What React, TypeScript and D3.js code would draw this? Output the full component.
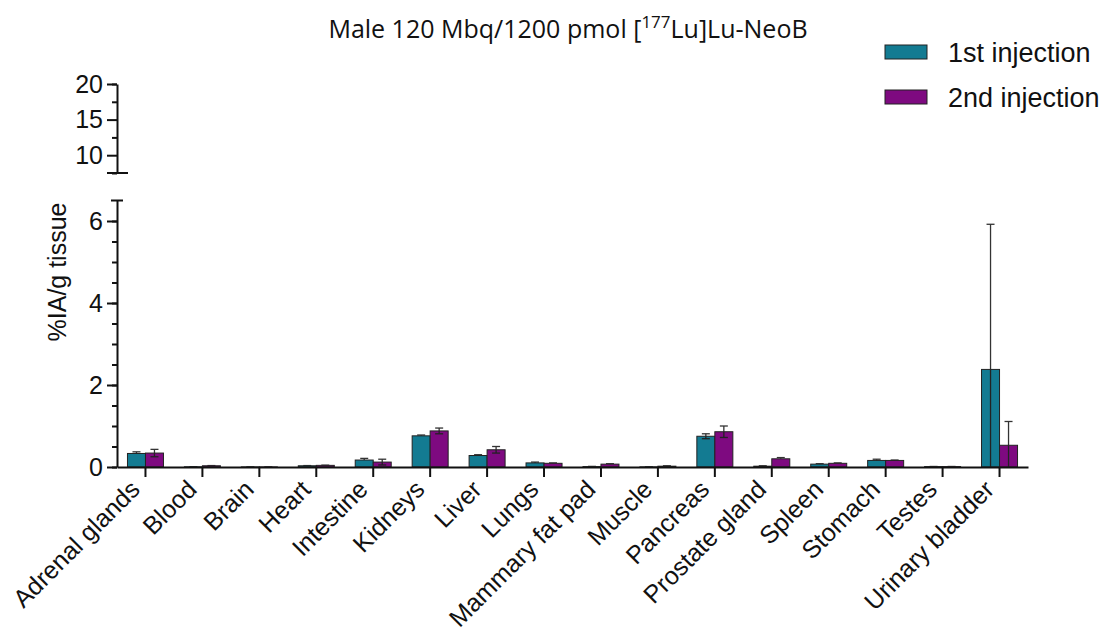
import * as d3 from "d3";
import { useEffect, useRef } from "react";

const tissues = [
  "Adrenal glands",
  "Blood",
  "Brain",
  "Heart",
  "Intestine",
  "Kidneys",
  "Liver",
  "Lungs",
  "Mammary fat pad",
  "Muscle",
  "Pancreas",
  "Prostate gland",
  "Spleen",
  "Stomach",
  "Testes",
  "Urinary bladder",
];
const seriesNames = ["1st injection", "2nd injection"];
const firstMean = [0.33, 0.005, 0.002, 0.03, 0.17, 0.76, 0.28, 0.1, 0.01, 0.003, 0.75, 0.02, 0.07, 0.16, 0.01, 2.38];
const firstSd = [0.04, 0.003, 0.001, 0.005, 0.04, 0.02, 0.02, 0.02, 0.005, 0.002, 0.06, 0.01, 0.01, 0.03, 0.003, 3.54];
const secondMean = [0.34, 0.03, 0.002, 0.04, 0.12, 0.88, 0.42, 0.09, 0.07, 0.02, 0.86, 0.2, 0.09, 0.16, 0.01, 0.53];
const secondSd = [0.09, 0.005, 0.001, 0.005, 0.07, 0.07, 0.08, 0.01, 0.01, 0.01, 0.14, 0.03, 0.01, 0.01, 0.003, 0.58];
const lowerTicks = [0, 2, 4, 6];
const upperTicks = [10, 15, 20];
const colors = ["#137b92", "#7e0a80"];

const Chart = () => {
  const ref = useRef<SVGSVGElement | null>(null);

  useEffect(() => {
    const svg = d3.select(ref.current);
    svg.selectAll("*").remove();

    const font = "'Liberation Sans', Arial, sans-serif";
    const baseY = 467;
    const axisX = 117;

    // scales
    const x = d3.scaleBand<string>().domain(tissues).range([axisX, 1028]);
    const inner = d3.scaleBand<string>().domain(seriesNames).range([0, 36]);
    const yLow = d3.scaleLinear().domain([0, 6.5]).range([baseY, 200.5]);
    const yHigh = d3.scaleLinear().domain([7.5, 20]).range([173, 84]);

    // title
    const title = svg
      .append("text")
      .attr("x", 568)
      .attr("y", 38)
      .attr("text-anchor", "middle")
      .style("font-family", "'Open Sans', 'Noto Sans', sans-serif")
      .style("font-size", "25px")
      .attr("fill", "#111");
    title.append("tspan").text("Male 120 Mbq/1200 pmol [");
    title.append("tspan").attr("dy", -10).style("font-size", "17px").text("177");
    title.append("tspan").attr("dy", 10).text("Lu]Lu-NeoB");

    // y axes (broken)
    const drawY = (scale: d3.ScaleLinear<number, number>, minor: number[], major: number[]) => {
      const gMinor = svg
        .append("g")
        .attr("transform", `translate(${axisX},0)`)
        .call(d3.axisLeft(scale).tickValues(minor).tickSize(5).tickSizeOuter(0).tickFormat(() => ""));
      gMinor.selectAll("line, path").attr("stroke", "#111").attr("stroke-width", 2);
      const gMajor = svg
        .append("g")
        .attr("transform", `translate(${axisX},0)`)
        .call(
          d3.axisLeft(scale).tickValues(major).tickSize(10).tickSizeOuter(0).tickPadding(4).tickFormat(d3.format("d"))
        );
      gMajor.select(".domain").remove();
      gMajor.selectAll("line").attr("stroke", "#111").attr("stroke-width", 2);
      gMajor.selectAll("text").style("font-family", font).style("font-size", "25px").attr("fill", "#111");
    };
    drawY(yLow, d3.range(0, 6.5, 0.5), lowerTicks);
    drawY(yHigh, [7.5, 12.5, 17.5, 20], upperTicks);

    // break caps
    svg.append("line").attr("x1", 107).attr("x2", 128).attr("y1", yHigh(7.5)).attr("y2", yHigh(7.5))
      .attr("stroke", "#111").attr("stroke-width", 2);
    svg.append("line").attr("x1", 111).attr("x2", 123).attr("y1", yLow(6.5)).attr("y2", yLow(6.5))
      .attr("stroke", "#111").attr("stroke-width", 2);

    // y axis label
    svg
      .append("text")
      .attr("transform", `translate(66,272) rotate(-90)`)
      .attr("text-anchor", "middle")
      .style("font-family", font)
      .style("font-size", "25px")
      .attr("fill", "#111")
      .text("%IA/g tissue");

    // bars
    const means = [firstMean, secondMean];
    const sds = [firstSd, secondSd];
    const rows = tissues.flatMap((t, i) =>
      seriesNames.map((s, k) => ({ t, s, k, mean: means[k][i], sd: sds[k][i] }))
    );
    const bx = (d: { t: string; s: string }) =>
      (x(d.t) as number) + x.bandwidth() / 2 - 18 + (inner(d.s) as number);

    // error bars above the bars
    const err = svg.append("g").attr("stroke", "#333").attr("stroke-width", 1.3);
    rows.forEach((d) => {
      const cx = bx(d) + inner.bandwidth() / 2;
      const hi = yLow(d.mean + d.sd);
      err.append("line").attr("x1", cx).attr("x2", cx).attr("y1", hi).attr("y2", yLow(d.mean));
      err.append("line").attr("x1", cx - 4).attr("x2", cx + 4).attr("y1", hi).attr("y2", hi);
    });

    svg
      .append("g")
      .selectAll("rect")
      .data(rows)
      .join("rect")
      .attr("x", (d) => bx(d))
      .attr("y", (d) => yLow(d.mean))
      .attr("width", inner.bandwidth())
      .attr("height", (d) => baseY - yLow(d.mean))
      .attr("fill", (d) => colors[d.k])
      .attr("stroke", "#222")
      .attr("stroke-width", 1);

    // lower part of error bar drawn inside the bar
    const errIn = svg.append("g").attr("stroke", "#222").attr("stroke-width", 1.3);
    rows.forEach((d) => {
      if (d.sd < 0.05) return;
      const cx = bx(d) + inner.bandwidth() / 2;
      const lo = Math.max(0, d.mean - d.sd);
      errIn.append("line").attr("x1", cx).attr("x2", cx).attr("y1", yLow(d.mean)).attr("y2", yLow(lo));
      if (d.mean - d.sd > 0)
        errIn.append("line").attr("x1", cx - 4).attr("x2", cx + 4).attr("y1", yLow(lo)).attr("y2", yLow(lo));
    });

    // x axis
    const gx = svg
      .append("g")
      .attr("transform", `translate(0,${baseY})`)
      .call(d3.axisBottom(x).tickSize(10).tickSizeOuter(0));
    gx.selectAll("line, path").attr("stroke", "#111").attr("stroke-width", 2);
    gx.selectAll("text")
      .attr("y", 0)
      .attr("dy", 0)
      .attr("transform", "translate(-4,24) rotate(-45)")
      .attr("text-anchor", "end")
      .style("font-family", font)
      .style("font-size", "25px")
      .attr("fill", "#111");

    // legend
    const leg = svg.append("g");
    seriesNames.forEach((s, k) => {
      const y = 45 + k * 45;
      leg.append("rect").attr("x", 885).attr("y", y).attr("width", 42).attr("height", 14)
        .attr("fill", colors[k]).attr("stroke", "#222").attr("stroke-width", 1);
      leg.append("text").attr("x", 948).attr("y", y + 17)
        .style("font-family", font).style("font-size", "27px").attr("fill", "#111").text(s);
    });
  }, []);

  return (
    <svg
      ref={ref}
      width={1110}
      height={639}
      style={{ position: "absolute", left: 0, top: 0, background: "#fff" }}
    />
  );
};

export default function App() {
  return <Chart />;
}
